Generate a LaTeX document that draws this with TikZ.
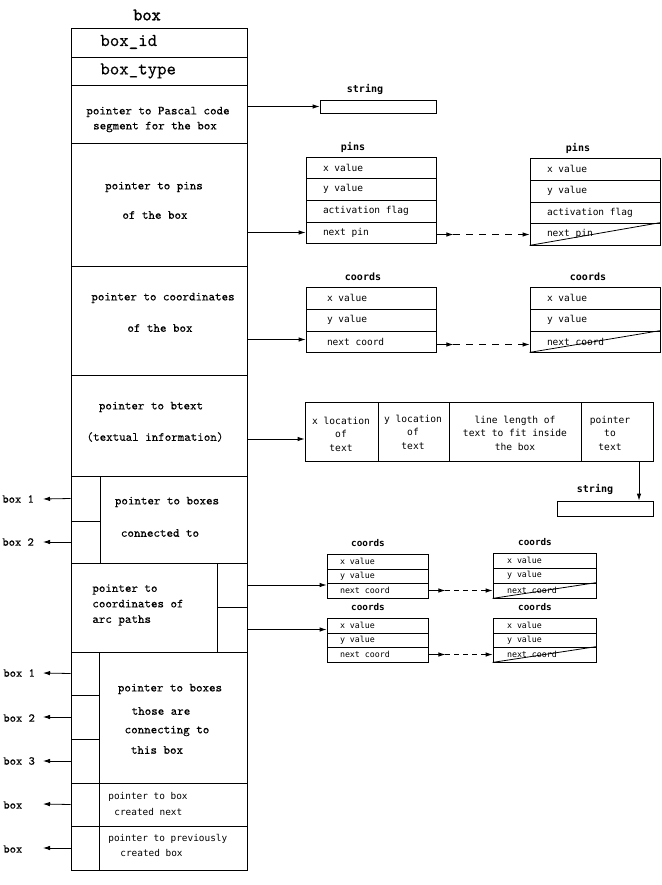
\documentclass[tikz,border=0pt]{standalone}
\usepackage{fontspec}
\newfontfamily\plot{DejaVu Sans Mono}
\newfontfamily\cour[FakeBold=0.25]{lmmono10-regular.otf}
\newfontfamily\courb[FakeBold=1.6]{lmmono10-regular.otf}
\usetikzlibrary{arrows.meta,fit}
\newcommand\cellat[5]{\node[box0,fit={(#2,#3) (#4,#5)}] (#1) {};}
\begin{document}
\begin{tikzpicture}[x=1pt,y=-1pt,line width=0.8pt,
  box0/.style={draw,inner sep=0pt},
  ptr/.style={-{Latex[length=7pt,width=4.5pt]}},
  mt/.style={font=\cour\fontsize{12.4}{15}\selectfont,inner sep=0pt},
  big/.style={font=\cour\fontsize{18}{20}\selectfont,inner sep=0pt,anchor=west},
  ttl/.style={font=\courb\fontsize{17.5}{20}\selectfont,inner sep=0pt},
  pf/.style={font=\plot\fontsize{9.5}{12}\selectfont,inner sep=0pt,anchor=west},
  sf/.style={font=\plot\fontsize{8.3}{10}\selectfont,inner sep=0pt,anchor=west},
  lbl/.style={font=\plot\bfseries\fontsize{10}{12}\selectfont,inner sep=0pt},
  slbl/.style={font=\plot\bfseries\fontsize{9.3}{11}\selectfont,inner sep=0pt},
  bt/.style={font=\plot\fontsize{9.6}{13.5}\selectfont,inner sep=0pt,align=center},
  lf/.style={font=\plot\fontsize{9.4}{14.5}\selectfont,inner sep=0pt,anchor=west,align=left},
  side/.style={font=\cour\fontsize{12}{14}\selectfont,inner sep=0pt,anchor=west}]
\useasboundingbox (0,0) rectangle (661,885);

% ---------- main record ----------
\node[ttl] (title) at (147,15) {box};
\cellat{mid}{71}{28}{247}{57}
\cellat{mtype}{71}{57}{247}{85}
\cellat{mpas}{71}{85}{247}{143}
\cellat{mpins}{71}{143}{247}{266}
\cellat{mcoord}{71}{266}{247}{375}
\cellat{mbtext}{71}{375}{247}{476}
\cellat{mconn}{71}{476}{247}{563}
\cellat{cA}{71}{476}{100}{521}
\cellat{cB}{71}{521}{100}{563}
\cellat{marc}{71}{563}{247}{652}
\cellat{aA}{217}{563}{247}{607}
\cellat{aB}{217}{607}{247}{652}
\cellat{mcing}{71}{652}{247}{783}
\cellat{kA}{71}{652}{99}{695}
\cellat{kB}{71}{695}{99}{739}
\cellat{kC}{71}{739}{99}{783}
\cellat{mnext}{71}{783}{247}{826}
\cellat{nA}{71}{783}{99}{826}
\cellat{mprev}{71}{826}{247}{870}
\cellat{vA}{71}{826}{99}{870}

\node[big] (tid) at (100,42) {box\_id};
\node[big] (ttype) at (100,71) {box\_type};
\node[mt] (tpas1) at (158,112) {pointer to Pascal code};
\node[mt] (tpas2) at (155,127) {segment for the box};
\node[mt] (tpin1) at (154,187) {pointer to pins};
\node[mt] (tpin2) at (155,215) {of the box};
\node[mt] (tco1) at (163,298) {pointer to coordinates};
\node[mt] (tco2) at (160,328) {of the box};
\node[mt] (tbt1) at (151,407) {pointer to btext};
\node[mt] (tbt2) at (155,437) {(textual information)};
\node[mt] (tcn1) at (167,502) {pointer to boxes};
\node[mt] (tcn2) at (160,533) {connected to};
\node[mt,anchor=west,align=left,font=\cour\fontsize{12.4}{15.5}\selectfont] (tarc) at (92,605) {pointer to\\coordinates of\\arc paths};
\node[mt] (tcg1) at (170,689) {pointer to boxes};
\node[mt] (tcg2) at (161,711) {those are};
\node[mt] (tcg3) at (167,731) {connecting to};
\node[mt] (tcg4) at (157,750) {this box};
\node[lf] (tnx1) at (108,797) {pointer to box};
\node[lf] (tnx2) at (114,812) {created next};
\node[lf] (tpv1) at (108,839) {pointer to previously};
\node[lf] (tpv2) at (120,853) {created box};

% ---------- left targets ----------
\node[side] (l1) at (2,499) {box 1};
\node[side] (l2) at (2,542) {box 2};
\node[side] (l3) at (3,673) {box 1};
\node[side] (l4) at (3,718) {box 2};
\node[side] (l5) at (3,761) {box 3};
\node[side] (l6) at (3,805) {box};
\node[side] (l7) at (3,849) {box};
\coordinate (e1) at (43,499);
\coordinate (e2) at (43,542);
\coordinate (e3) at (43,673);
\coordinate (e4) at (43,717);
\coordinate (e5) at (43,761);
\coordinate (e6) at (43,804);
\coordinate (e7) at (43,848);
\draw[ptr] (cA.west) -- (e1);
\draw[ptr] (cB.west) -- (e2);
\draw[ptr] (kA.west) -- (e3);
\draw[ptr] (kB.west) -- (e4);
\draw[ptr] (kC.west) -- (e5);
\draw[ptr] (nA.west) -- (e6);
\draw[ptr] (vA.west) -- (e7);

% ---------- string 1 ----------
\node[lbl] (lstr1) at (365,89) {string};
\cellat{str1}{320}{100}{436}{113}
\draw[ptr] (mpas.east |- str1.west) -- (str1.west);

% ---------- pins ----------
\node[lbl] (lp1) at (353,147) {pins};
\cellat{p1x}{306}{157}{436}{178}
\cellat{p1y}{306}{178}{436}{200}
\cellat{p1a}{306}{200}{436}{222}
\cellat{p1n}{306}{222}{436}{243}
\node[pf] at ([xshift=17pt]p1x.west) {x value};
\node[pf] at ([xshift=17pt]p1y.west) {y value};
\node[pf] at ([xshift=17pt]p1a.west) {activation flag};
\node[pf] at ([xshift=17pt]p1n.west) {next pin};

\node[lbl] (lp2) at (578,148) {pins};
\cellat{p2x}{530}{158}{660}{180}
\cellat{p2y}{530}{180}{660}{202}
\cellat{p2a}{530}{202}{660}{223}
\cellat{p2n}{530}{223}{660}{245}
\node[pf] at ([xshift=17pt]p2x.west) {x value};
\node[pf] at ([xshift=17pt]p2y.west) {y value};
\node[pf] at ([xshift=17pt]p2a.west) {activation flag};
\node[pf] at ([xshift=17pt]p2n.west) {next pin};
\draw (p2n.south west) -- (p2n.north east);

\draw[ptr] (mpins.east |- p1n.west) -- (p1n.west);
\draw[ptr] ([yshift=-2pt]p1n.east) -- ++(17,0) coordinate (m1);
\draw[ptr,dashed,dash pattern=on 7pt off 6pt] (m1) -- (m1 -| p2n.west);

% ---------- coords ----------
\node[lbl] (lc1) at (363,277) {coords};
\cellat{c1x}{306}{287}{436}{309}
\cellat{c1y}{306}{309}{436}{331}
\cellat{c1n}{306}{331}{436}{352}
\node[pf] at ([xshift=21pt]c1x.west) {x value};
\node[pf] at ([xshift=21pt]c1y.west) {y value};
\node[pf] at ([xshift=21pt]c1n.west) {next coord};

\node[lbl] (lc2) at (588,277) {coords};
\cellat{c2x}{530}{287}{660}{309}
\cellat{c2y}{530}{309}{660}{331}
\cellat{c2n}{530}{331}{660}{352}
\node[pf] at ([xshift=17pt]c2x.west) {x value};
\node[pf] at ([xshift=17pt]c2y.west) {y value};
\node[pf] at ([xshift=17pt]c2n.west) {next coord};
\draw (c2n.south west) -- (c2n.north east);

\draw[ptr] ([yshift=2pt]mcoord.east |- c1n.west) -- ([yshift=2pt]c1n.west);
\draw[ptr] ([yshift=-3pt]c1n.east) -- ++(17,0) coordinate (m2);
\draw[ptr,dashed,dash pattern=on 7pt off 6pt] (m2) -- (m2 -| c2n.west);

% ---------- btext ----------
\cellat{b1}{305}{402}{378}{461}
\cellat{b2}{378}{402}{449}{461}
\cellat{b3}{449}{402}{581}{461}
\cellat{b4}{581}{402}{653}{461}
\node[bt] (bt1) at (341,434) {x location\\of\\text};
\node[bt] (bt2) at (413,432) {y location\\of\\text};
\node[bt] (bt3) at (515,433) {line length of\\text to fit inside\\the box};
\node[bt] (bt4) at (610,433) {pointer\\to\\text};
\draw[ptr] ([yshift=-7.5pt]mbtext.east |- b1.west) -- ([yshift=-7.5pt]b1.west);

\node[lbl] (lstr2) at (595,489) {string};
\cellat{str2}{557}{501}{653}{516}
\draw[ptr] ([xshift=22pt]b4.south) -- ([xshift=22pt]b4.south |- str2.north);

% ---------- arc path coords ----------
\node[slbl] (ls1) at (368,543) {coords};
\cellat{s1x}{327}{554}{428}{569}
\cellat{s1y}{327}{569}{428}{583}
\cellat{s1n}{327}{583}{428}{598}
\node[sf] at ([xshift=13pt]s1x.west) {x value};
\node[sf] at ([xshift=13pt]s1y.west) {y value};
\node[sf] at ([xshift=13pt]s1n.west) {next coord};

\node[slbl] (ls2) at (535,542) {coords};
\cellat{s2x}{493}{553}{596}{568}
\cellat{s2y}{493}{568}{596}{583}
\cellat{s2n}{493}{583}{596}{598}
\node[sf] at ([xshift=14pt]s2x.west) {x value};
\node[sf] at ([xshift=14pt]s2y.west) {y value};
\node[sf] at ([xshift=14pt]s2n.west) {next coord};
\draw (s2n.south west) -- (s2n.north east);

\node[slbl] (ls3) at (368,607) {coords};
\cellat{s3x}{327}{618}{428}{633}
\cellat{s3y}{327}{633}{428}{647}
\cellat{s3n}{327}{647}{428}{662}
\node[sf] at ([xshift=13pt]s3x.west) {x value};
\node[sf] at ([xshift=13pt]s3y.west) {y value};
\node[sf] at ([xshift=13pt]s3n.west) {next coord};

\node[slbl] (ls4) at (535,607) {coords};
\cellat{s4x}{493}{618}{596}{633}
\cellat{s4y}{493}{633}{596}{647}
\cellat{s4n}{493}{647}{596}{662}
\node[sf] at ([xshift=14pt]s4x.west) {x value};
\node[sf] at ([xshift=14pt]s4y.west) {y value};
\node[sf] at ([xshift=14pt]s4n.west) {next coord};
\draw (s4n.south west) -- (s4n.north east);

\draw[ptr] (aA.east) -- (aA.east -| s1x.west);
\draw[ptr] (aB.east) -- (aB.east -| s3x.west);
\draw[ptr] (s1n.east) -- ++(17,0) coordinate (m3);
\draw[ptr,dashed,dash pattern=on 5pt off 4pt] (m3) -- (m3 -| s2n.west);
\draw[ptr] (s3n.east) -- ++(17,0) coordinate (m4);
\draw[ptr,dashed,dash pattern=on 5pt off 4pt] (m4) -- (m4 -| s4n.west);
\end{tikzpicture}
\end{document}
